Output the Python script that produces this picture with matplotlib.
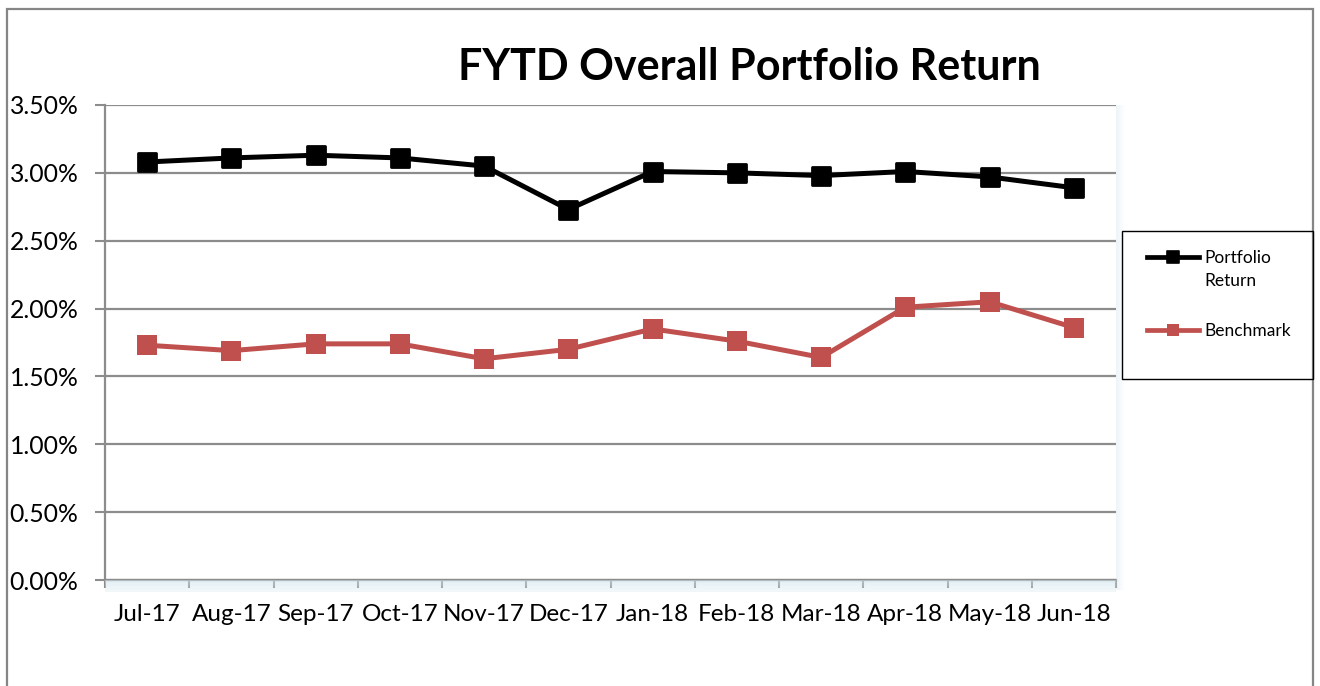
import matplotlib
matplotlib.use("Agg")
import matplotlib.pyplot as plt
from matplotlib.lines import Line2D
from matplotlib.markers import MarkerStyle
from matplotlib.patches import Rectangle
from matplotlib.ticker import FixedLocator, PercentFormatter

months = ["Jul-17", "Aug-17", "Sep-17", "Oct-17", "Nov-17", "Dec-17",
          "Jan-18", "Feb-18", "Mar-18", "Apr-18", "May-18", "Jun-18"]
portfolio = [3.08, 3.11, 3.13, 3.11, 3.05, 2.73, 3.01, 3.00, 2.98, 3.01, 2.97, 2.89]
benchmark = [1.73, 1.69, 1.74, 1.74, 1.63, 1.70, 1.85, 1.76, 1.64, 2.01, 2.05, 1.86]
series_names = ["Portfolio\nReturn", "Benchmark"]

BLACK = "#000000"; RED = "#C0504D"; GRID = "#8c8c8c"; FRAME = "#868686"

plt.rcParams["font.family"] = ["Lato", "DejaVu Sans"]

W, H = 1320, 686
fig = plt.figure(figsize=(W / 100, H / 100), dpi=100)
ax = fig.add_axes([105 / W, 1 - 580 / H, (1116 - 105) / W, (580 - 105) / H])

# faint shadow right of and below the plot area
for i, a in enumerate([0.35, 0.25, 0.15, 0.08]):
    fig.patches.append(Rectangle(((1116 + i * 2) / W, 1 - (580 + 10) / H), 2 / W, 485 / H,
                                 transform=fig.transFigure, color="#cfe3ec", alpha=a, lw=0, zorder=0))
    fig.patches.append(Rectangle((105 / W, 1 - (580 + 3 + i * 3) / H), (1116 - 105) / W, 3 / H,
                                 transform=fig.transFigure, color="#cfe3ec", alpha=a + 0.2, lw=0, zorder=0))

x = range(len(months))
mk = MarkerStyle("s", joinstyle="round")
ax.plot(x, portfolio, color=BLACK, lw=3.6, marker=mk, ms=13, mew=2, mfc=BLACK, mec=BLACK,
        solid_joinstyle="round", zorder=4)
ax.plot(x, benchmark, color=RED, lw=3.6, marker="s", ms=14.5, mew=0, mfc=RED,
        solid_joinstyle="round", zorder=3)

ax.set_xlim(-0.5, len(months) - 0.5)
ax.set_ylim(0, 3.5)
ax.yaxis.set_major_locator(FixedLocator([i * 0.5 for i in range(8)]))
ax.yaxis.set_major_formatter(PercentFormatter(decimals=2))
ax.grid(axis="y", color=GRID, lw=1.6)
ax.set_axisbelow(True)

ax.xaxis.set_major_locator(FixedLocator([i - 0.5 for i in range(len(months) + 1)]))
ax.xaxis.set_major_formatter(plt.NullFormatter())
ax.xaxis.set_minor_locator(FixedLocator(list(x)))
ax.set_xticklabels(months, minor=True)
ax.tick_params(axis="x", which="major", length=6, width=1.5, color=GRID, direction="out")
ax.tick_params(axis="x", which="minor", length=0, pad=17, labelsize=17.5)
ax.tick_params(axis="y", length=7, width=1.5, color=GRID, pad=12, labelsize=17.8)

for s in ("top", "right"):
    ax.spines[s].set_visible(False)
for s in ("left", "bottom"):
    ax.spines[s].set_color(GRID)
    ax.spines[s].set_linewidth(1.6)

fig.text(749 / W, 1 - 67 / H, "FYTD Overall Portfolio Return", ha="center", va="center",
         fontsize=31, fontweight="bold")

# outer chart frame
fig.patches.append(Rectangle((7 / W, -0.05), (1313 - 7) / W, 1.05 - 9 / H, transform=fig.transFigure,
                             fill=False, ec=FRAME, lw=1.6, zorder=1))

# legend: box, then handle + label per series (handle sits on the first label line)
fig.patches.append(Rectangle((1122 / W, 1 - 379 / H), (1313 - 1122) / W, (379 - 231) / H,
                             transform=fig.transFigure, fill=False, ec=BLACK, lw=1.0, zorder=5))
legend_rows = [(series_names[0], BLACK, 256.5), (series_names[1], RED, 330)]
for (label, col, yp), lm in zip(legend_rows, [mk, "s"]):
    y = 1 - yp / H
    fig.add_artist(Line2D([1147 / W, 1199 / W], [y, y], transform=fig.transFigure, color=col, lw=3.4))
    fig.add_artist(Line2D([1173 / W], [y], transform=fig.transFigure, color=col, marker=lm, ms=8.5,
                          mew=1.2 if col == BLACK else 0, mfc=col, mec=col))
    for k, line in enumerate(label.split("\n")):
        fig.text(1204 / W, 1 - (yp + 22.5 * k) / H, line, ha="left", va="center_baseline", fontsize=12.5)

fig.savefig("out.png", facecolor="white")
